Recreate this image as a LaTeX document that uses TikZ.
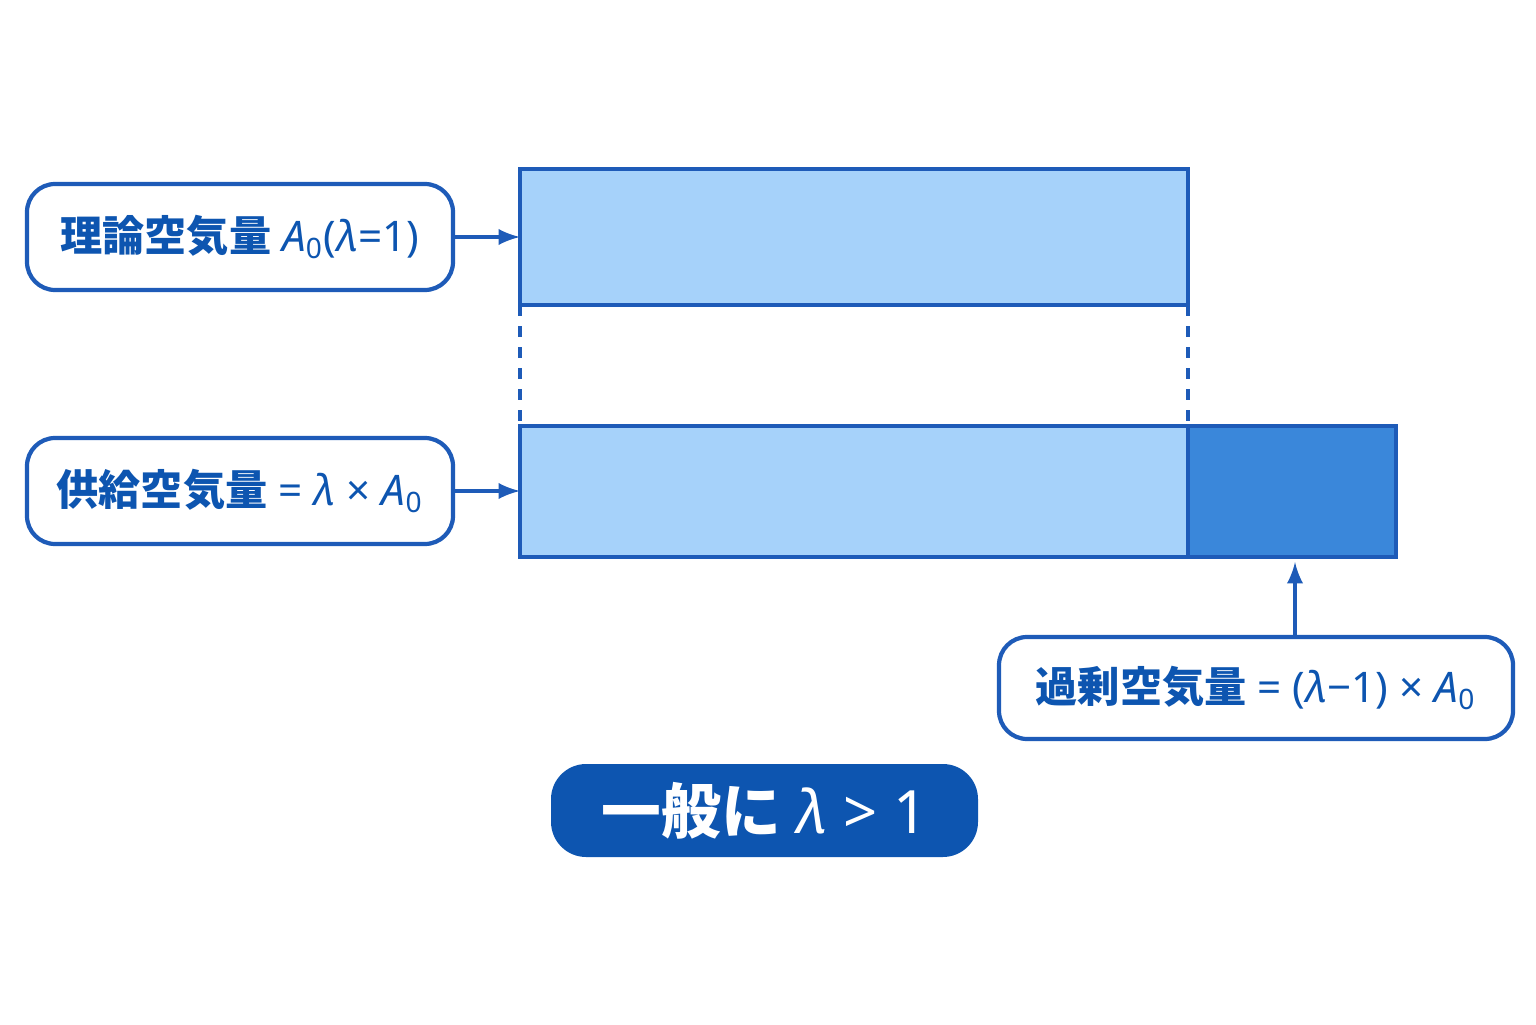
\documentclass[tikz,border=0pt]{standalone}
\usepackage{fontspec}
\setmainfont{Noto Sans}
\newfontfamily\jp{Noto Sans CJK JP}
\usetikzlibrary{positioning}
\definecolor{barlight}{HTML}{A6D2FA}
\definecolor{bardark}{HTML}{3A87DA}
\definecolor{lineblue}{HTML}{1E5BB8}
\definecolor{pillblue}{HTML}{0D55B0}
\tikzset{
  label box/.style={draw=lineblue,line width=1.2pt,rounded corners=8pt,fill=white,
    minimum height=1.06cm,inner xsep=8pt,font=\fontsize{12}{14}\selectfont,text=pillblue},
  bar/.style={draw=lineblue,line width=1pt},
  pointer/.style={-latex,draw=lineblue,line width=1.1pt}
}
\begin{document}
\begin{tikzpicture}
\useasboundingbox[fill=white](0,0)rectangle(15.36,10.24);
%bars
\draw[bar,fill=barlight](5.20,7.19)rectangle(11.88,8.55);
\draw[bar,fill=barlight](5.20,4.67)rectangle(11.88,5.98);
\draw[bar,fill=bardark](11.88,4.67)rectangle(13.96,5.98);
\coordinate (topbar) at (5.20,7.87);
\coordinate (lowbar) at (5.20,5.33);
\coordinate (excess) at (12.95,4.62);
%guides
\draw[lineblue,line width=1pt,dashed](5.20,7.19)--(5.20,4.67);
\draw[lineblue,line width=1pt,dashed](11.88,7.19)--(11.88,5.98);
%labels
\node[label box,minimum width=4.26cm](theory) at (2.40,7.87)
  {\textbf{\jp 理論空気量} \textit{A}\textsubscript{0}(\textit{λ}=1)};
\node[label box,minimum width=4.26cm](supply) at (2.40,5.33)
  {\textbf{\jp 供給空気量} = \textit{λ} × \textit{A}\textsubscript{0}};
\node[label box,minimum width=5.14cm,minimum height=1.02cm](surplus) at (12.56,3.36)
  {\textbf{\jp 過剰空気量} = (\textit{λ}−1) × \textit{A}\textsubscript{0}};
\draw[pointer](theory.east)--(topbar);
\draw[pointer](supply.east)--(lowbar);
\draw[pointer](surplus.north-|excess)--(excess);
%note
\node[fill=pillblue,rounded corners=10pt,minimum width=4.27cm,minimum height=0.93cm,
  text=white,font=\fontsize{17}{20}\selectfont\bfseries](note) at (7.645,2.135)
  {{\jp 一般に} \textit{λ} > 1};
\end{tikzpicture}
\end{document}
